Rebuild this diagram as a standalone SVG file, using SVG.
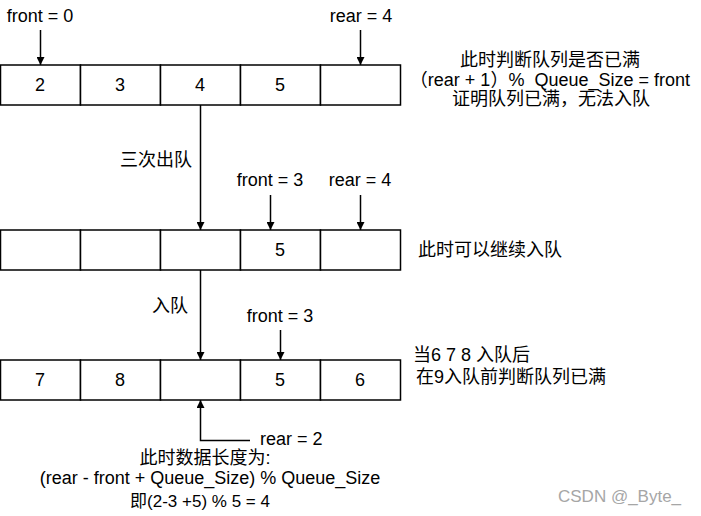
<svg xmlns="http://www.w3.org/2000/svg" width="701" height="516" viewBox="0 0 701 516">
<defs>
<style>
text{font-family:"Liberation Sans","Noto Sans CJK SC",sans-serif;font-size:18px;fill:#000}
.c{text-anchor:middle}
.cell{fill:#fff;stroke:#000;stroke-width:1.5}
.ln{fill:none;stroke:#000;stroke-width:1.5}
.wm{fill:#a6a6a6;font-size:17px}
</style>
<marker id="ah" viewBox="0 0 10 10" refX="10" refY="5" markerWidth="8" markerHeight="8" markerUnits="userSpaceOnUse" orient="auto">
<path d="M0,0 L10,5 L0,10 Z" fill="#000"/>
</marker>
</defs>
<rect width="701" height="516" fill="#fff"/>

<g id="row1">
<rect class="cell" x="0.5" y="65" width="80" height="40"/>
<rect class="cell" x="80.5" y="65" width="80" height="40"/>
<rect class="cell" x="160.5" y="65" width="80" height="40"/>
<rect class="cell" x="240.5" y="65" width="80" height="40"/>
<rect class="cell" x="320.5" y="65" width="80" height="40"/>
<text class="c" x="40" y="91">2</text>
<text class="c" x="120" y="91">3</text>
<text class="c" x="200" y="91">4</text>
<text class="c" x="280" y="91">5</text>
</g>

<g id="row2">
<rect class="cell" x="0.5" y="230" width="80" height="40"/>
<rect class="cell" x="80.5" y="230" width="80" height="40"/>
<rect class="cell" x="160.5" y="230" width="80" height="40"/>
<rect class="cell" x="240.5" y="230" width="80" height="40"/>
<rect class="cell" x="320.5" y="230" width="80" height="40"/>
<text class="c" x="280" y="256">5</text>
</g>

<g id="row3">
<rect class="cell" x="0.5" y="360" width="80" height="40"/>
<rect class="cell" x="80.5" y="360" width="80" height="40"/>
<rect class="cell" x="160.5" y="360" width="80" height="40"/>
<rect class="cell" x="240.5" y="360" width="80" height="40"/>
<rect class="cell" x="320.5" y="360" width="80" height="40"/>
<text class="c" x="40" y="386">7</text>
<text class="c" x="120" y="386">8</text>
<text class="c" x="280" y="386">5</text>
<text class="c" x="360" y="386">6</text>
</g>

<g id="labels">
<text class="c" x="40" y="22">front = 0</text>
<text class="c" x="361" y="22">rear = 4</text>
<text class="c" x="550" y="66">此时判断队列是否已满</text>
<text x="690" y="86" style="text-anchor:end" xml:space="preserve">（rear + 1）%  Queue_Size = front</text>
<text class="c" x="551" y="105">证明队列已满，无法入队</text>
<text x="120" y="166">三次出队</text>
<text class="c" x="270" y="186">front = 3</text>
<text class="c" x="360" y="186">rear = 4</text>
<text x="418" y="256">此时可以继续入队</text>
<text x="152" y="312">入队</text>
<text class="c" x="280" y="322">front = 3</text>
<text x="413" y="361" xml:space="preserve">当6 7 8 入队后</text>
<text x="416" y="383">在9入队前判断队列已满</text>
<text x="260" y="445">rear = 2</text>
<text class="c" x="205" y="464">此时数据长度为:</text>
<text class="c" x="210" y="484">(rear - front + Queue_Size) % Queue_Size</text>
<text class="c" x="200" y="507" style="font-size:17px">即(2-3 +5) % 5 = 4</text>
<text class="wm" x="558" y="502">CSDN @_Byte_</text>
</g>

<g id="connectors">
<path class="ln" d="M40.5,30 V65" marker-end="url(#ah)"/>
<path class="ln" d="M360.5,30 V65" marker-end="url(#ah)"/>
<path class="ln" d="M200.5,105 V230" marker-end="url(#ah)"/>
<path class="ln" d="M270.5,195 V230" marker-end="url(#ah)"/>
<path class="ln" d="M360.5,195 V230" marker-end="url(#ah)"/>
<path class="ln" d="M200.5,270 V360" marker-end="url(#ah)"/>
<path class="ln" d="M280.5,330 V360" marker-end="url(#ah)"/>
<path class="ln" d="M250,440.5 H200.5 V400" marker-end="url(#ah)"/>
</g>
</svg>
